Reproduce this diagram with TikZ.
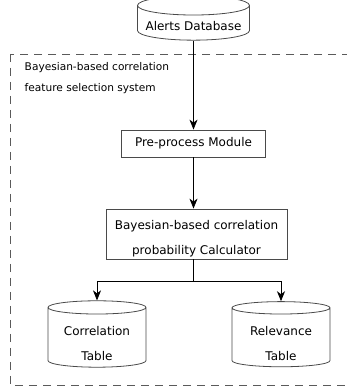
\documentclass[tikz,border=0pt]{standalone}
\usepackage{fontspec}
\setmainfont{DejaVu Sans}
\usetikzlibrary{arrows.meta, positioning, shapes.geometric}
\definecolor{cline}{HTML}{4A4A4A}
\definecolor{cdash}{HTML}{5A5A5A}
\tikzset{
  every picture/.style={line width=0.8pt, x=1pt, y=1pt},
  box/.style={draw=cline, rectangle, align=center, inner sep=0pt, font=\fontsize{12}{25}\selectfont},
  db/.style={draw=cline, cylinder, shape border rotate=90, aspect=#1, align=center, inner sep=0pt,
    font=\fontsize{12}{25}\selectfont},
  db/.default=0.2,
  arrow/.style={-{Stealth[length=10pt, width=8pt, inset=3pt]}, draw=black},
  frame/.style={draw=cdash, dash pattern=on 8pt off 6pt},
  note/.style={align=left, font=\fontsize{10.6}{21}\selectfont},
}
\begin{document}
\begin{tikzpicture}
  \useasboundingbox (0,0) rectangle (347,389);
  \clip (0,0) rectangle (347,389);
  % system boundary
  \draw[frame] (10,335) rectangle (360,4);
  \node[note, anchor=base west] (sys) at (21,297) {Bayesian-based correlation\\feature selection system};
  % pipeline
  \node[db, minimum width=112pt, minimum height=40pt, text height=15pt] (alerts) at (193.5,366) {Alerts Database};
  \node[box, minimum width=144pt, minimum height=27pt] (pre) at (193.5,245.5) {Pre-process Module};
  \node[box, minimum width=181pt, minimum height=50pt, text height=44pt] (calc) at (196.5,155)
    {Bayesian-based correlation\\probability Calculator};
  \coordinate (split) at (193.5,108);
  \node[db, minimum width=98pt, minimum height=55pt, text height=46pt] (corr) at (97,51.5) {Correlation\\Table};
  \node[db, minimum width=98pt, minimum height=55pt, text height=46pt] (rel) at (281,51.5) {Relevance\\Table};
  \draw[arrow] (alerts) -- (pre);
  \draw[arrow] (pre) -- (pre |- calc.north);
  \draw (calc.south -| split) -- (split);
  \draw[arrow] (split) -| (corr.north);
  \draw[arrow] (split) -| (rel.north);
\end{tikzpicture}
\end{document}
